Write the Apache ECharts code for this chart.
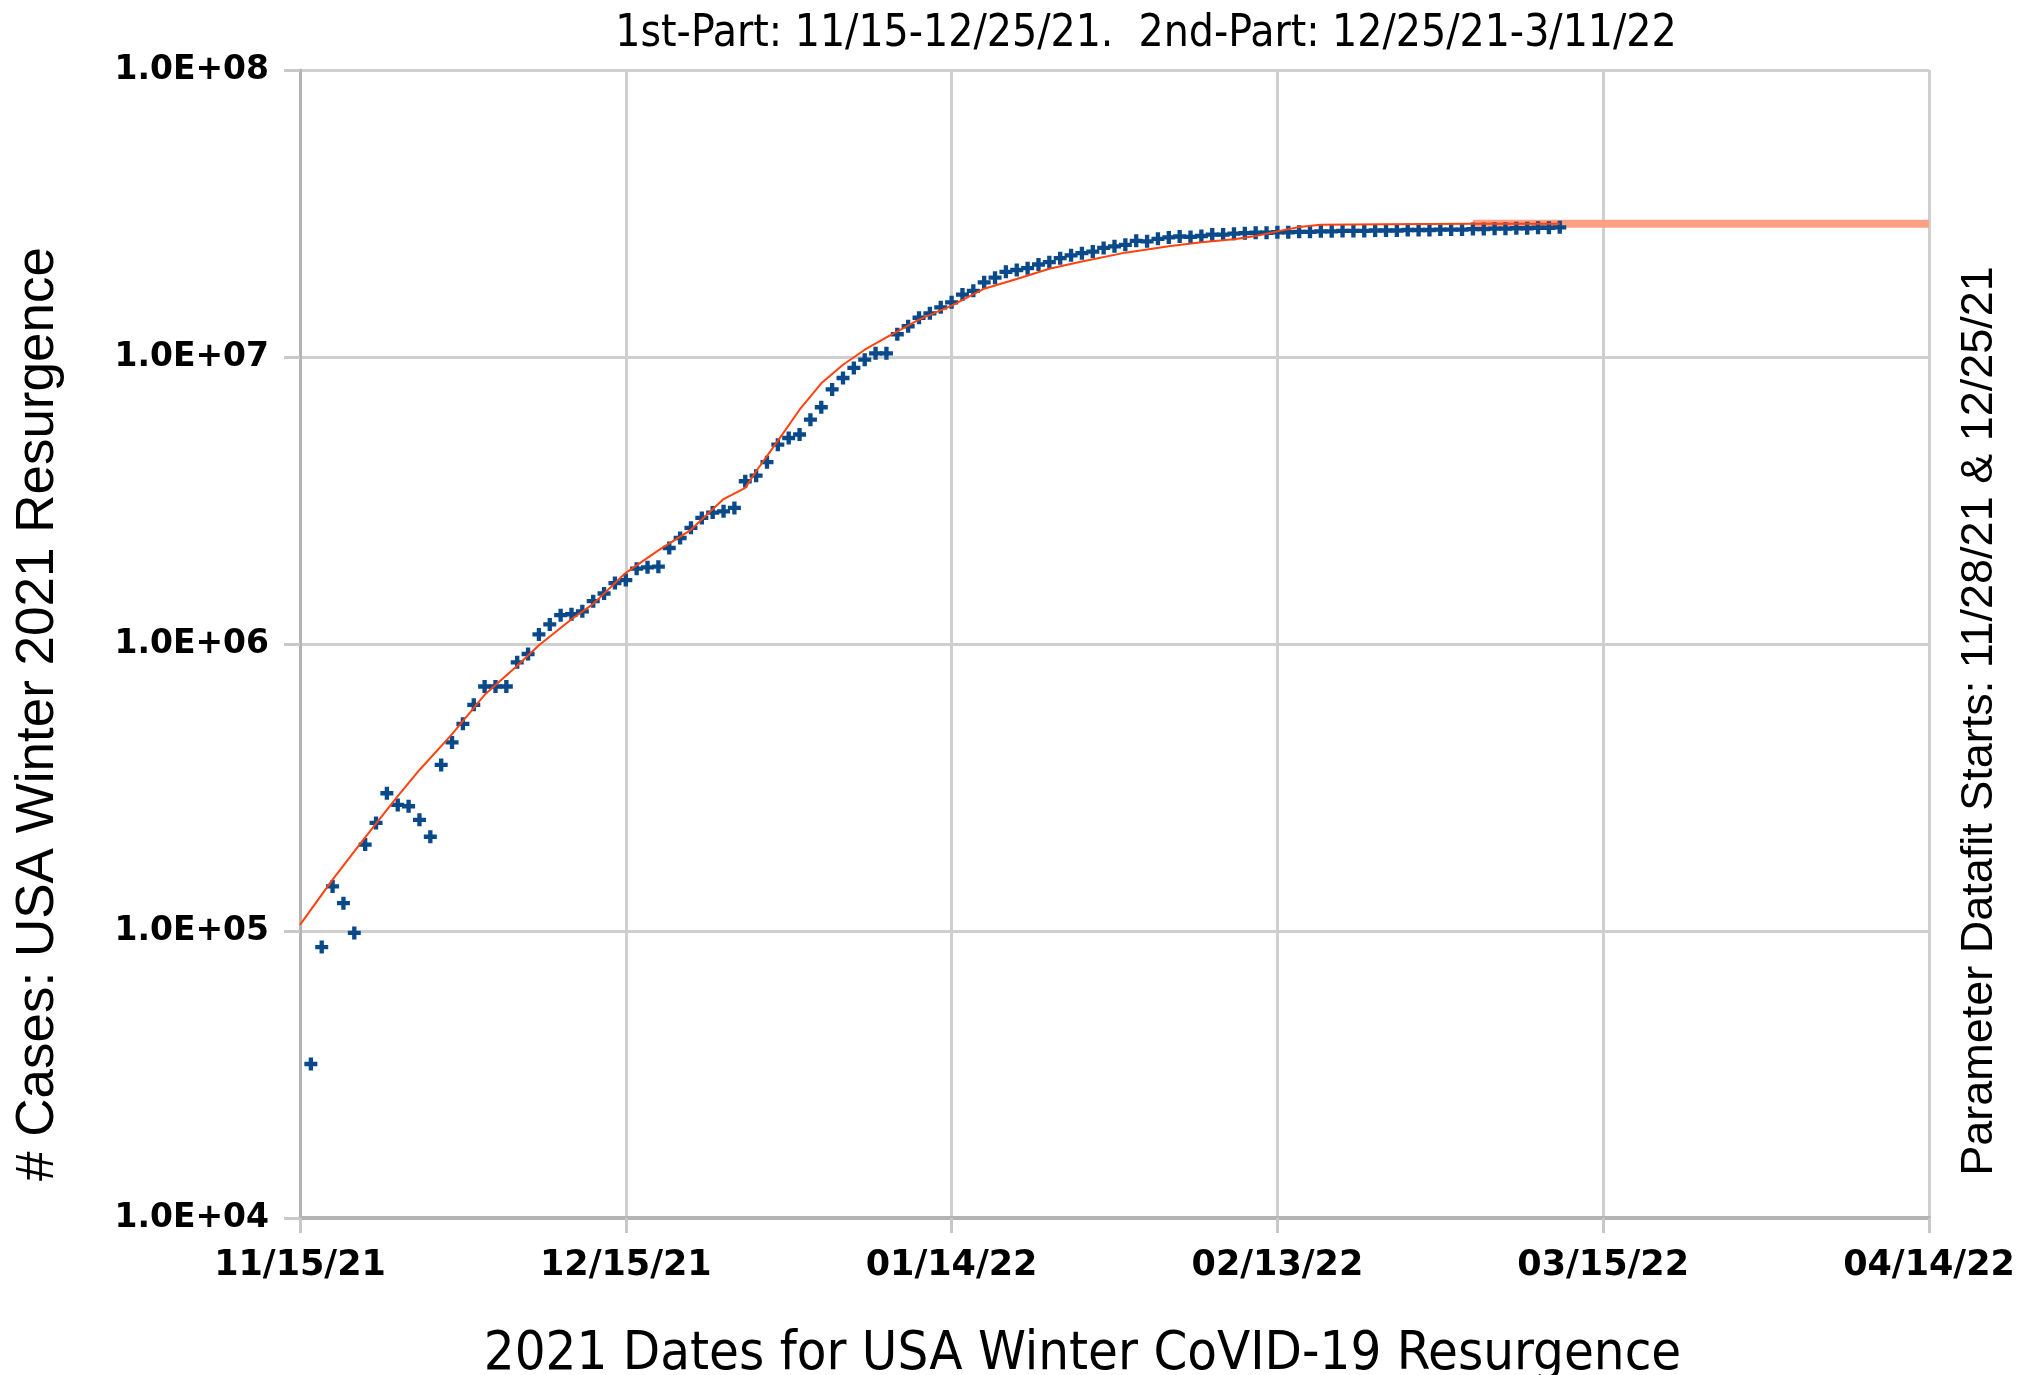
<!DOCTYPE html>
<html>
<head>
<meta charset="utf-8">
<script src="https://cdn.jsdelivr.net/npm/echarts@6/dist/echarts.min.js"></script>
<style>
html,body{margin:0;padding:0;background:#fff;}
#chart{width:2028px;height:1375px;}
</style>
</head>
<body>
<div id="chart"></div>
<script>
// Day 0 = 11/15/21
const xTickLabels = ['11/15/21', '12/15/21', '01/14/22', '02/13/22', '03/15/22', '04/14/22'];
const yTickLabels = ['1.0E+04', '1.0E+05', '1.0E+06', '1.0E+07', '1.0E+08'];

const chartTitle = '1st-Part: 11/15-12/25/21.  2nd-Part: 12/25/21-3/11/22';
const xAxisTitle = '2021 Dates for USA Winter CoVID-19 Resurgence';
const yAxisTitle = '# Cases: USA Winter 2021 Resurgence';
const rightNote = 'Parameter Datafit Starts: 11/28/21 & 12/25/21';

// observed cases, one per day starting at day 1 (11/16/21)
const firstCaseDay = 1;
const cases = [
  34400, 87900, 143000, 125000, 98500, 200000, 238000, 302000, 275000, 272000,
  244000, 213000, 379000, 454000, 527000, 614000, 711000, 711000, 711000, 863000,
  923000, 1080000, 1170000, 1260000, 1270000, 1300000, 1410000, 1500000, 1630000, 1670000,
  1830000, 1850000, 1860000, 2160000, 2340000, 2540000, 2750000, 2870000, 2900000, 2980000,
  3690000, 3860000, 4300000, 4950000, 5220000, 5370000, 6050000, 6680000, 7710000, 8450000,
  9160000, 9790000, 10300000, 10300000, 12000000, 12800000, 13700000, 14200000, 14900000, 15500000,
  16500000, 17000000, 18200000, 18900000, 19800000, 20100000, 20400000, 21000000, 21400000, 22100000,
  22600000, 23000000, 23300000, 24000000, 24300000, 24600000, 25400000, 25300000, 25800000, 26100000,
  26300000, 26200000, 26400000, 26700000, 26700000, 26900000, 27000000, 27100000, 27100000, 27200000,
  27200000, 27300000, 27300000, 27400000, 27400000, 27500000, 27500000, 27500000, 27600000, 27600000,
  27600000, 27700000, 27700000, 27700000, 27800000, 27800000, 27800000, 27900000, 27900000, 28000000,
  28000000, 28100000, 28100000, 28200000, 28200000, 28300000
];

// datafit curve
const fitDays = [0, 3, 6, 9, 11, 14, 17, 20, 22, 25, 27, 30, 33, 36, 39, 41, 42, 44, 46, 48, 50, 52, 54, 57, 60, 63, 66, 69, 72, 76, 80, 83, 86, 88, 90, 92, 94, 100, 108, 116];
const fitValues = [105000, 151000, 212000, 295000, 364000, 485000, 665000, 840000, 990000, 1220000, 1380000, 1770000, 2120000, 2500000, 3200000, 3500000, 4000000, 5100000, 6550000, 8100000, 9400000, 10600000, 11700000, 13500000, 15100000, 17300000, 18700000, 20300000, 21500000, 23100000, 24300000, 25100000, 25700000, 26400000, 27400000, 28400000, 28900000, 29000000, 29100000, 29100000];

// plateau projection
const plateauDays = [108, 150];
const plateauValues = [29100000, 29100000];

const caseData = cases.map((v, i) => [firstCaseDay + i, v]);
const fitData = fitDays.map((d, i) => [d, fitValues[i]]);
const plateauData = plateauDays.map((d, i) => [d, plateauValues[i]]);

const condensed = "'DejaVu Sans Condensed', 'Liberation Sans Narrow', sans-serif";
const plusPath = 'path://M4,0h4v4h4v4h-4v4h-4v-4h-4v-4h4z';

const chart = echarts.init(document.getElementById('chart'), null, {renderer: 'canvas'});
chart.setOption({
  animation: false,
  backgroundColor: '#ffffff',
  title: {
    text: chartTitle,
    left: 1146,
    top: 13,
    textAlign: 'center',
    padding: 0,
    textStyle: {fontFamily: condensed, fontSize: 44, fontWeight: 'normal', color: '#000'}
  },
  grid: {left: 300, top: 70, width: 1629, height: 1148, containLabel: false, outerBoundsMode: 'none'},
  xAxis: {
    type: 'value', min: 0, max: 150, interval: 30,
    name: xAxisTitle, nameLocation: 'middle', nameGap: 110,
    nameTextStyle: {fontFamily: condensed, fontSize: 54, color: '#000', padding: [0, 64, 0, 0]},
    axisLine: {show: true, lineStyle: {color: '#b3b3b3', width: 4}},
    axisTick: {show: true, length: 15, lineStyle: {color: '#c8c8c8', width: 3}},
    splitLine: {show: true, lineStyle: {color: '#cfcfcf', width: 3}},
    axisLabel: {
      margin: 30, color: '#000', fontFamily: 'DejaVu Sans', fontWeight: 'bold', fontSize: 35,
      formatter: v => xTickLabels[Math.round(v / 30)]
    }
  },
  yAxis: {
    type: 'log', logBase: 10, min: 1e4, max: 1e8, interval: 1,
    name: yAxisTitle, nameLocation: 'middle', nameRotate: 90, nameGap: 235,
    nameTextStyle: {fontFamily: "'Liberation Sans', Arial, sans-serif", fontSize: 53, color: '#000', padding: [0, 140, 0, 0]},
    axisLine: {show: true, lineStyle: {color: '#b3b3b3', width: 3}},
    axisTick: {show: true, length: 16, lineStyle: {color: '#c8c8c8', width: 3}},
    splitLine: {show: true, lineStyle: {color: '#cfcfcf', width: 3}},
    minorTick: {show: false},
    axisLabel: {
      margin: 31, color: '#000', fontFamily: 'DejaVu Sans', fontWeight: 'bold', fontSize: 33,
      formatter: v => yTickLabels[Math.round(Math.log10(v)) - 4]
    }
  },
  graphic: [{
    type: 'text',
    x: 1980, y: 721, rotation: Math.PI / 2,
    style: {
      text: rightNote, fill: '#000',
      font: "45px 'Liberation Sans', Arial, sans-serif",
      textAlign: 'center', textVerticalAlign: 'middle'
    }
  }],
  series: [
    {
      name: 'plateau', type: 'line', data: plateauData, showSymbol: false, symbol: 'none',
      lineStyle: {color: '#ffa086', width: 8}, z: 1, silent: true
    },
    {
      name: 'cases', type: 'scatter', data: caseData,
      symbol: plusPath, symbolSize: 13,
      itemStyle: {color: '#0a4a8a', opacity: 1}, z: 2
    },
    {
      name: 'fit', type: 'line', data: fitData, showSymbol: false, symbol: 'none', smooth: false,
      lineStyle: {color: '#ff420e', width: 2}, z: 3, silent: true
    }
  ]
});
</script>
</body>
</html>
